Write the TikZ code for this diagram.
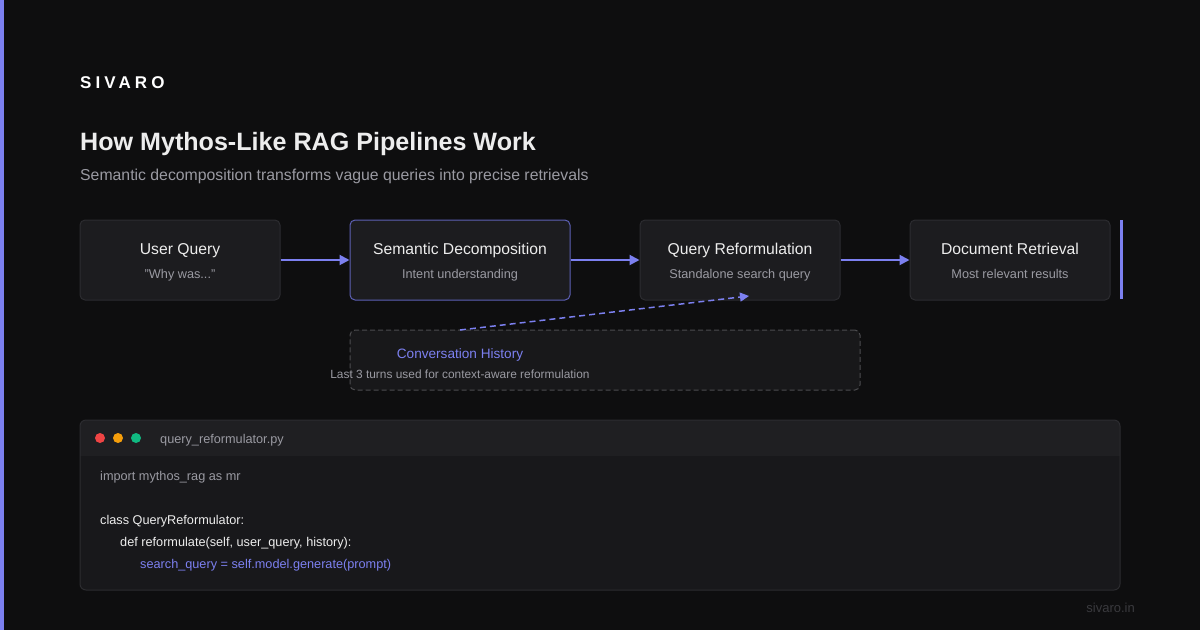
\documentclass[tikz,border=0pt]{standalone}
\usepackage{fontspec}
\setmainfont{Liberation Sans}
\usetikzlibrary{arrows.meta}
\definecolor{bg}{HTML}{0E0E0F}
\definecolor{accent}{HTML}{7C80F0}
\definecolor{boxfill}{HTML}{1C1C1F}
\definecolor{boxline}{HTML}{2C2C30}
\definecolor{ttl}{HTML}{EDEDED}
\definecolor{sub}{HTML}{9A9AA2}
\definecolor{hdr}{HTML}{1F1F22}
\definecolor{body}{HTML}{18181B}
\definecolor{dred}{HTML}{EF4444}
\definecolor{damber}{HTML}{F59E0B}
\definecolor{dgreen}{HTML}{10B981}
\definecolor{foot}{HTML}{3A3A3E}
\tikzset{
  stepbox/.style={draw=boxline, fill=boxfill, line width=1pt, rounded corners=5pt, minimum width=200pt, minimum height=80pt, inner sep=0pt},
  boxtitle/.style={text=ttl, font=\fontsize{15.7}{18}\selectfont, anchor=base, inner sep=0pt},
  boxsub/.style={text=sub, font=\fontsize{12.7}{15}\selectfont, anchor=base, inner sep=0pt},
  flow/.style={draw=accent, line width=2pt, -{Triangle[length=10pt,width=10pt]}},
  code/.style={font=\fontsize{12.7}{16}\selectfont, anchor=base west, inner sep=0pt},
}
\begin{document}
\begin{tikzpicture}[x=1pt,y=-1pt]
\fill[bg] (0,0) rectangle (1200,630);
\useasboundingbox (0,0) rectangle (1200,630);
\fill[accent] (0,0) rectangle (4,630);

% header texts
\node[anchor=base west, inner sep=0pt, text=white, font=\fontsize{17}{20}\selectfont\bfseries\addfontfeature{LetterSpace=24}] (brand) at (80,88) {SIVARO};
\node[anchor=base west, inner sep=0pt, text=ttl, font=\fontsize{25.1}{30}\selectfont\bfseries] (title) at (80,150) {How Mythos-Like RAG Pipelines Work};
\node[anchor=base west, inner sep=0pt, text=sub, font=\fontsize{15.8}{18}\selectfont] (subtitle) at (80,180) {Semantic decomposition transforms vague queries into precise retrievals};

% pipeline boxes
\node[stepbox] (uq) at (180,260) {};
\node[stepbox, draw=accent!75!black, minimum width=220pt] (sd) at (460,260) {};
\node[stepbox] (qr) at (740,260) {};
\node[stepbox] (dr) at (1010,260) {};
\fill[accent] (1120,220) rectangle (1123,299);

\node[boxtitle] (uqt) at (180,254) {User Query};
\node[boxsub] (uqs) at (180,278) {"Why was..."};
\node[boxtitle] (sdt) at (460,254) {Semantic Decomposition};
\node[boxsub] (sds) at (460,278) {Intent understanding};
\node[boxtitle] (qrt) at (740,254) {Query Reformulation};
\node[boxsub] (qrs) at (740,278) {Standalone search query};
\node[boxtitle] (drt) at (1010,254) {Document Retrieval};
\node[boxsub] (drs) at (1010,278) {Most relevant results};

\draw[flow] (uq.east) -- (sd.west);
\draw[flow] (sd.east) -- (qr.west);
\draw[flow] (qr.east) -- (dr.west);

% conversation history
\node[draw=boxline!85!white, fill=boxfill!70!bg, dash pattern=on 5pt off 3pt, line width=1pt, rounded corners=5pt, minimum width=510pt, minimum height=60pt, inner sep=0pt] (ch) at (605,360) {};
\node[anchor=base, inner sep=0pt, text=accent, font=\fontsize{13.6}{16}\selectfont] (cht) at (460,358) {Conversation History};
\node[anchor=base, inner sep=0pt, text=sub, font=\fontsize{11.9}{14}\selectfont] (chs) at (460,378) {Last 3 turns used for context-aware reformulation};
\coordinate (chtop) at (460,330);
\coordinate (qrin) at (749,296);
\draw[draw=accent, line width=1.5pt, dash pattern=on 6pt off 4pt, -{Triangle[length=9pt,width=9pt]}] (chtop) -- (qrin);

% code window
\begin{scope}
\clip[rounded corners=6pt] (80,420) rectangle (1120,590);
\fill[body] (80,420) rectangle (1120,590);
\fill[hdr] (80,420) rectangle (1120,456);
\end{scope}
\draw[boxline, line width=1pt, rounded corners=6pt] (80,420) rectangle (1120,590);
\fill[dred] (100,438) circle (5pt);
\fill[damber] (118,438) circle (5pt);
\fill[dgreen] (136,438) circle (5pt);
\node[anchor=base west, inner sep=0pt, text=sub, font=\fontsize{12.7}{16}\selectfont] (fname) at (160,443) {query\_reformulator.py};

\node[code, text=sub] (c1) at (100,480) {import mythos\_rag as mr};
\node[code, text=ttl] (c2) at (100,524) {class QueryReformulator:};
\node[code, text=ttl] (c3) at (120,546) {def reformulate(self, user\_query, history):};
\node[code, text=accent] (c4) at (140,568) {search\_query = self.model.generate(prompt)};

\node[anchor=base east, inner sep=0pt, text=foot, font=\fontsize{13}{16}\selectfont] (site) at (1135,612) {sivaro.in};
\end{tikzpicture}
\end{document}
